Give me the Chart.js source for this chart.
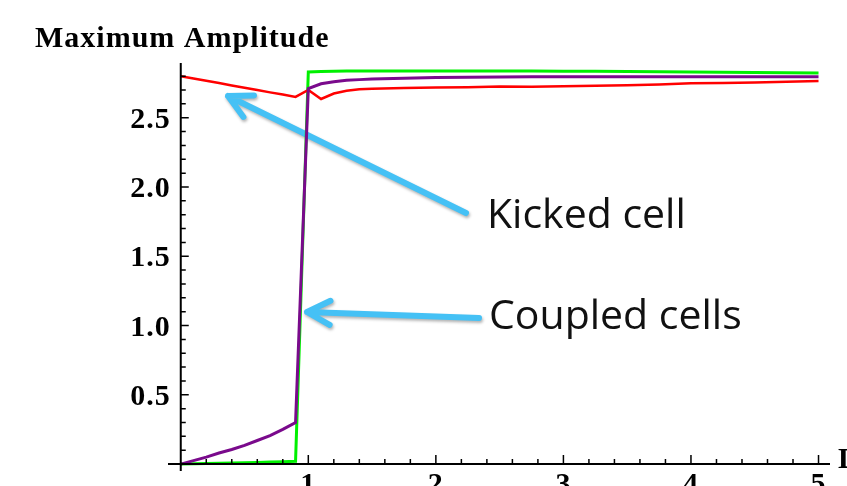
<!DOCTYPE html>
<html>
<head>
<meta charset="utf-8">
<script src="https://cdn.jsdelivr.net/npm/chart.js@4.4.0/dist/chart.umd.min.js"></script>
<style>
  html, body { margin: 0; padding: 0; background: #fff; }
  #wrap { width: 847px; height: 486px; }
</style>
</head>
<body>
<div id="wrap"><canvas id="ampChart" width="847" height="486"></canvas></div>
<script>
// coupling values (x axis)
var xs = [0, 0.1, 0.2, 0.3, 0.4, 0.5, 0.6, 0.7, 0.8, 0.9, 1.0, 1.1, 1.2, 1.3, 1.4, 1.5,
          1.75, 2.0, 2.25, 2.5, 2.75, 3.0, 3.25, 3.5, 3.75, 4.0, 4.25, 4.5, 4.75, 5.0];

// maximum amplitude of the kicked cell (red)
var kicked = [2.80, 2.783, 2.767, 2.75, 2.733, 2.717, 2.70, 2.683, 2.667, 2.65, 2.70, 2.635, 2.675, 2.695, 2.705, 2.71,
              2.715, 2.718, 2.72, 2.725, 2.724, 2.728, 2.73, 2.735, 2.74, 2.748, 2.75, 2.755, 2.76, 2.765];

// coupled cells (purple and green)
var coupledA = [0, 0.025, 0.05, 0.08, 0.105, 0.135, 0.17, 0.205, 0.25, 0.30, 2.71, 2.745, 2.76, 2.77, 2.775, 2.78,
                2.785, 2.79, 2.792, 2.794, 2.795, 2.795, 2.795, 2.795, 2.795, 2.795, 2.795, 2.795, 2.795, 2.795];
var coupledB = [0, 0.002, 0.004, 0.006, 0.008, 0.01, 0.012, 0.015, 0.017, 0.02, 2.83, 2.834, 2.836, 2.837, 2.838, 2.838,
                2.838, 2.838, 2.838, 2.837, 2.837, 2.836, 2.835, 2.834, 2.832, 2.83, 2.829, 2.827, 2.825, 2.823];

var xTickLabels = ['1', '2', '3', '4', '5'];
var yTickLabels = ['0.5', '1.0', '1.5', '2.0', '2.5'];

function pts(ys) {
    return xs.map(function(x, i) { return { x: x, y: ys[i] }; });
}

var axesPlugin = {
    id: 'mmaAxes',
    beforeDatasetsDraw: function(chart) {
        var ctx = chart.ctx;
        // blue annotation arrows (drawn under the curves)
        function arrow(tx, ty, fx, fy) {
            var ang = Math.atan2(fy - ty, fx - tx);
            var len = 26, spread = 0.48;
            ctx.save();
            ctx.strokeStyle = '#45c1f5';
            ctx.lineWidth = 6;
            ctx.lineCap = 'round';
            ctx.lineJoin = 'round';
            ctx.shadowColor = 'rgba(0,0,0,0.3)';
            ctx.shadowBlur = 3;
            ctx.shadowOffsetX = 1;
            ctx.shadowOffsetY = 2;
            ctx.beginPath();
            ctx.moveTo(fx, fy);
            ctx.lineTo(tx, ty);
            ctx.moveTo(tx + len * Math.cos(ang - spread), ty + len * Math.sin(ang - spread));
            ctx.lineTo(tx, ty);
            ctx.lineTo(tx + len * Math.cos(ang + spread), ty + len * Math.sin(ang + spread));
            ctx.stroke();
            ctx.restore();
        }
        arrow(228, 96, 466, 213);
        arrow(307, 312, 479, 318);
    },
    afterDatasetsDraw: function(chart) {
        var ctx = chart.ctx;
        var xs_ = chart.scales.x, ys_ = chart.scales.y;
        var x0 = xs_.getPixelForValue(0), y0 = ys_.getPixelForValue(0);
        ctx.save();
        ctx.strokeStyle = '#000';
        ctx.lineWidth = 2;
        ctx.beginPath();
        ctx.moveTo(xs_.left, y0);
        ctx.lineTo(xs_.right, y0);
        ctx.moveTo(x0, ys_.bottom);
        ctx.lineTo(x0, ys_.top);
        ctx.stroke();

        // x ticks (inside, pointing up)
        ctx.lineWidth = 1.5;
        ctx.beginPath();
        for (var i = 1; i <= 25; i++) {
            var v = i * 0.2;
            var px = xs_.getPixelForValue(v);
            var major = (i % 5 === 0);
            ctx.moveTo(px, y0);
            ctx.lineTo(px, y0 - (major ? 9 : 5));
        }
        // y ticks (inside, pointing right)
        for (var j = 1; j <= 28; j++) {
            var w = j * 0.1;
            var py = ys_.getPixelForValue(w);
            var majorY = (j % 5 === 0);
            ctx.moveTo(x0, py);
            ctx.lineTo(x0 + (majorY ? 8 : 5), py);
        }
        ctx.stroke();

        ctx.fillStyle = '#000';
        ctx.font = 'bold 30px "Liberation Serif", "Times New Roman", serif';
        ctx.letterSpacing = '1px';
        ctx.textAlign = 'right';
        ctx.textBaseline = 'alphabetic';
        yTickLabels.forEach(function(lab) {
            var py = ys_.getPixelForValue(parseFloat(lab));
            ctx.fillText(lab, x0 - 10, py + 10);
        });
        ctx.textAlign = 'center';
        xTickLabels.forEach(function(lab) {
            var px = xs_.getPixelForValue(parseFloat(lab));
            ctx.fillText(lab, px, y0 + 29);
        });
        ctx.textAlign = 'left';
        ctx.fillText('D', 838, 468);

        // title
        ctx.font = 'bold 30px "Liberation Serif", "Times New Roman", serif';
        ctx.letterSpacing = '1px';
        ctx.fillText('Maximum Amplitude', 35, 47);

        // annotations
        ctx.letterSpacing = '0px';
        ctx.font = '41px "Open Sans", sans-serif';
        ctx.fillStyle = '#111';
        ctx.fillText('Kicked cell', 487, 228);
        ctx.fillText('Coupled cells', 489, 329);
        ctx.restore();
    }
};

var ctx = document.getElementById('ampChart').getContext('2d');
var chart = new Chart(ctx, {
    type: 'line',
    data: {
        datasets: [{
            label: 'Coupled cell A',
            data: pts(coupledA),
            borderColor: '#7a0a8c',
            borderWidth: 3
        }, {
            label: 'Kicked cell',
            data: pts(kicked),
            borderColor: '#ff0000',
            borderWidth: 2.5
        }, {
            label: 'Coupled cell B',
            data: pts(coupledB),
            borderColor: '#00f000',
            borderWidth: 3
        }]
    },
    options: {
        responsive: false,
        animation: false,
        layout: { padding: { left: 168, right: 17, top: 63, bottom: 15 } },
        elements: { point: { radius: 0 }, line: { tension: 0 } },
        plugins: { legend: { display: false }, tooltip: { enabled: false } },
        scales: {
            x: { type: 'linear', min: -0.1, max: 5.09, display: false },
            y: { type: 'linear', min: -0.05, max: 2.895, display: false }
        }
    },
    plugins: [axesPlugin]
});
</script>
</body>
</html>
